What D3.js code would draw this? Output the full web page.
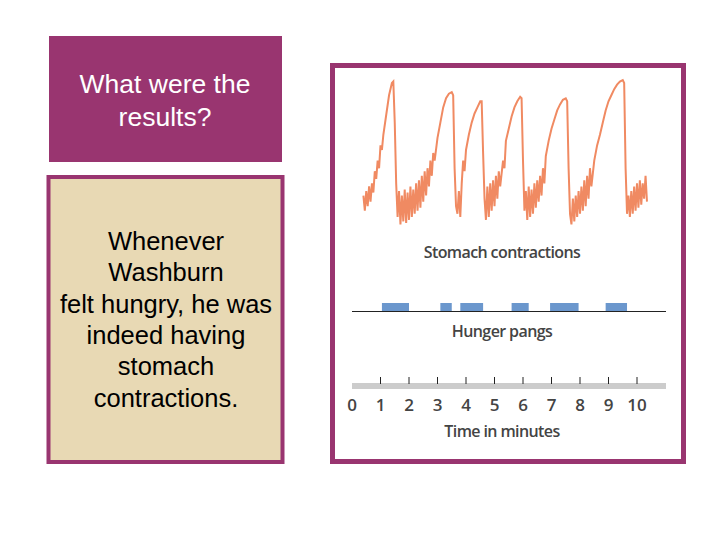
<!DOCTYPE html>
<html><head><meta charset="utf-8">
<script src="https://cdn.jsdelivr.net/npm/d3@7"></script>
<style>body{margin:0;background:#fff}svg{display:block}</style>
</head><body>
<script>
// stomach contraction trace: [minute, relative amplitude]
const trace = [[0.4,22],[0.45,12],[0.5,25],[0.55,15],[0.6,28],[0.65,18],[0.7,30],[0.75,24],[0.8,38],[0.85,33],[0.9,45],[0.95,40],[1.0,55],[1.05,52],[1.1,62],[1.2,75],[1.3,88],[1.4,96],[1.45,97],[1.5,70],[1.55,30],[1.6,8],
 [1.65,25],[1.7,3],[1.75,22],[1.8,5],[1.85,26],[1.9,4],[1.95,24],[2.0,6],[2.05,28],[2.1,8],[2.15,26],[2.2,10],[2.25,30],[2.3,12],[2.35,32],[2.4,14],[2.45,35],[2.5,18],[2.55,38],[2.6,22],[2.65,40],[2.7,28],[2.75,45],[2.8,35],[2.85,50],[2.9,45],[3.0,60],[3.1,70],[3.2,80],[3.3,86],[3.4,89],[3.5,90],[3.55,88],[3.6,40],[3.65,15],[3.7,10],[3.75,25],[3.8,8],[3.85,30],[3.9,45],[3.95,38],[4.0,52],[4.1,62],[4.2,70],[4.3,76],[4.4,80],[4.5,84],[4.55,84],[4.6,50],[4.65,20],[4.7,6],[4.75,28],[4.8,8],[4.85,30],[4.9,12],[4.95,32],[5.0,15],[5.05,35],[5.1,20],[5.15,38],[5.2,28],[5.3,45],[5.35,40],[5.4,58],[5.5,66],[5.6,74],[5.7,80],[5.8,84],[5.9,87],[5.95,86],[6.0,45],[6.05,12],[6.1,25],[6.15,6],[6.2,28],[6.25,8],[6.3,26],[6.35,10],[6.4,30],[6.45,14],[6.5,32],[6.55,18],[6.6,35],[6.65,22],[6.7,40],[6.75,30],[6.8,48],[6.9,58],[7.0,66],[7.1,72],[7.2,78],[7.3,82],[7.4,85],[7.5,86],[7.55,84],[7.6,40],[7.65,10],[7.7,3],[7.75,20],[7.8,5],[7.85,22],[7.9,8],[7.95,25],[8.0,10],[8.05,28],[8.1,12],[8.15,32],[8.2,15],[8.25,35],[8.3,20],[8.35,40],[8.4,28],[8.5,45],[8.6,55],[8.7,62],[8.8,70],[8.9,78],[9.0,84],[9.1,88],[9.2,92],[9.3,95],[9.4,97],[9.5,98],[9.55,96],[9.6,40],[9.65,10],[9.7,22],[9.75,8],[9.8,25],[9.85,10],[9.9,28],[9.95,12],[10.0,30],[10.05,14],[10.1,32],[10.15,16],[10.2,30],[10.25,20],[10.3,35],[10.35,18]]
// hunger pang intervals [start, end] in minutes
const pangs = [[1.05,2.0],[3.1,3.5],[3.8,4.6],[5.6,6.2],[6.95,7.95],[8.9,9.65]]
const ticks = [0,1,2,3,4,5,6,7,8,9,10]
const titleLines = ["What were the", "results?"]
const bodyLines = ["Whenever", "Washburn", "felt hungry, he was", "indeed having", "stomach", "contractions."]

const svg = d3.select("body").append("svg").attr("width", 720).attr("height", 540)

// title box
svg.append("rect").attr("x", 49).attr("y", 36).attr("width", 233).attr("height", 126).attr("fill", "#993570")
svg.append("text").attr("text-anchor", "middle")
    .style("font", "26.5px 'Liberation Sans', Arial").attr("fill", "#fff")
    .selectAll("tspan").data(titleLines).enter().append("tspan")
    .attr("x", 165).attr("y", (d, i) => 93 + i * 33).text(d => d)

// body box
svg.append("rect").attr("x", 48.5).attr("y", 177).attr("width", 234).attr("height", 285)
    .attr("fill", "#E8D9B4").attr("stroke", "#993570").attr("stroke-width", 4)
svg.append("text").attr("text-anchor", "middle")
    .style("font", "25.5px 'Liberation Sans', Arial").attr("fill", "#000")
    .selectAll("tspan").data(bodyLines).enter().append("tspan")
    .attr("x", 166).attr("y", (d, i) => 250 + i * 31.3).text(d => d)

// chart box
svg.append("rect").attr("x", 332.5).attr("y", 65.5).attr("width", 351).attr("height", 396)
    .attr("fill", "#fff").attr("stroke", "#993570").attr("stroke-width", 5)

const x = d3.scaleLinear().domain([0, 10]).range([352, 637])
const y = d3.scaleLinear().domain([0, 100]).range([229, 77])

svg.append("path").datum(trace)
    .attr("d", d3.line().x(d => x(d[0])).y(d => y(d[1])))
    .attr("fill", "none").attr("stroke", "#F08A62").attr("stroke-width", 2)

const label = { font: "600 16px 'Open Sans', sans-serif", fill: "#444" }
svg.append("text").attr("x", 502).attr("y", 258).attr("text-anchor", "middle")
    .style("font", label.font).attr("fill", label.fill).style("letter-spacing", "-0.6px").text("Stomach contractions")

// hunger pangs
svg.append("line").attr("x1", 352).attr("x2", 666).attr("y1", 311.5).attr("y2", 311.5).attr("stroke", "#222")
svg.selectAll(".pang").data(pangs).enter().append("rect")
    .attr("x", d => x(d[0])).attr("width", d => x(d[1]) - x(d[0]))
    .attr("y", 303).attr("height", 8).attr("fill", "#6B97CD")
svg.append("text").attr("x", 502).attr("y", 337).attr("text-anchor", "middle")
    .style("font", label.font).attr("fill", label.fill).style("letter-spacing", "-0.6px").text("Hunger pangs")

// time axis
svg.append("rect").attr("x", 352).attr("y", 383).attr("width", 314).attr("height", 6).attr("fill", "#CCCCCC")
svg.selectAll(".tick").data(ticks.slice(1)).enter().append("line")
    .attr("x1", d => x(d)).attr("x2", d => x(d)).attr("y1", 377).attr("y2", 384).attr("stroke", "#222")
svg.selectAll(".tl").data(ticks).enter().append("text")
    .attr("x", d => x(d)).attr("y", 411).attr("text-anchor", "middle")
    .style("font", "600 17px 'Open Sans', sans-serif").attr("fill", label.fill).text(d => d)
svg.append("text").attr("x", 502).attr("y", 437).attr("text-anchor", "middle")
    .style("font", label.font).attr("fill", label.fill).style("letter-spacing", "-0.6px").text("Time in minutes")
</script>
</body></html>
